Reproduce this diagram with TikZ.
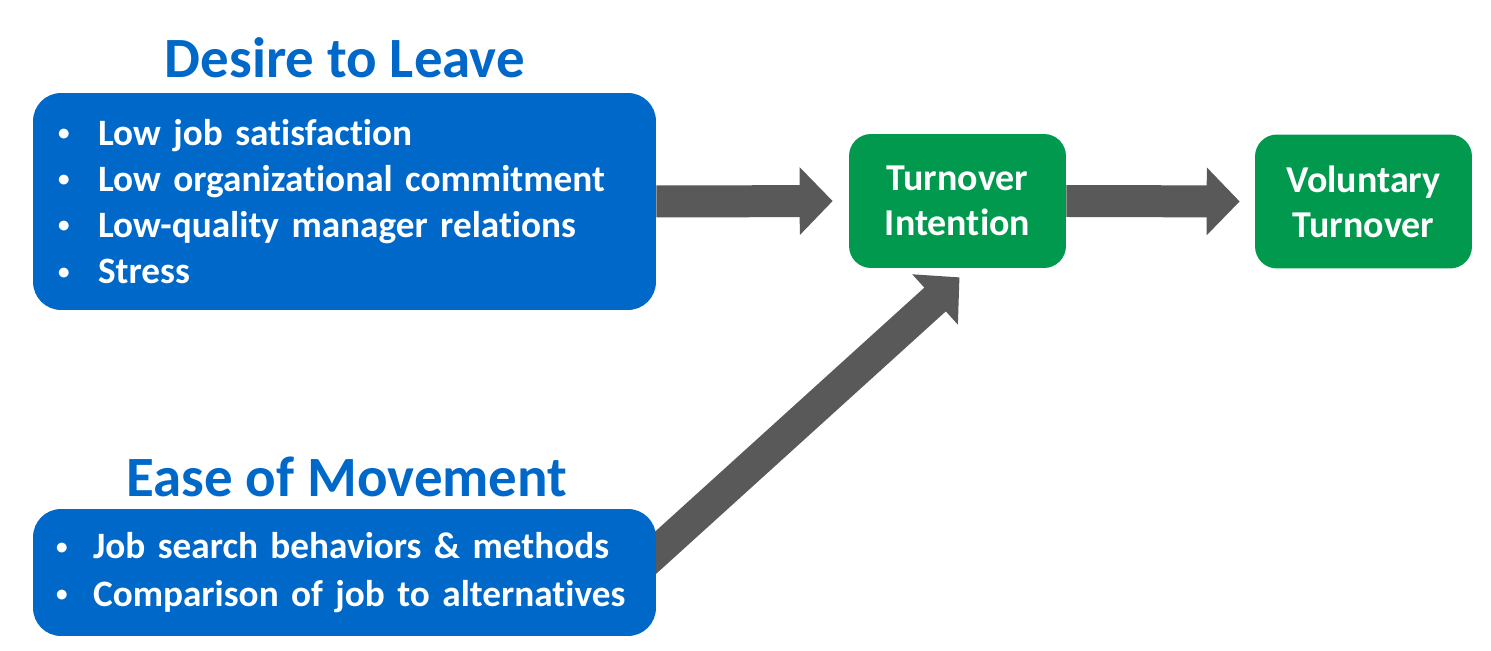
\documentclass[tikz,border=0pt]{standalone}
\usepackage{fontspec}
\usepackage{graphicx}
\setmainfont{Carlito}[Ligatures=NoCommon]
\usetikzlibrary{arrows.meta}
\usetikzlibrary{backgrounds}
\definecolor{boxblue}{HTML}{0068C8}
\definecolor{boxgreen}{HTML}{00994D}
\definecolor{arrowgray}{HTML}{595959}
\newcommand{\bul}[2]{\mbox{\makebox[#1][l]{\raisebox{0.12em}{\scalebox{0.62}{\textbullet}}}#2}}

\begin{document}
\begin{tikzpicture}[x=0.02cm, y=-0.02cm,
    heading/.style={text=boxblue, font=\fontsize{32.4pt}{36pt}\selectfont\bfseries, anchor=base},
    listbox/.style={fill=boxblue, text=white, rounded corners=0.56cm, align=left,
        font=\fontsize{21.2pt}{26.2pt}\selectfont\bfseries, inner ysep=0pt},
    stagebox/.style={fill=boxgreen, text=white, rounded corners=0.44cm, align=center,
        minimum width=4.34cm, minimum height=2.68cm, inner sep=0pt,
        font=\fontsize{21.6pt}{25.8pt}\selectfont\bfseries},
    fatarrow/.style={draw=arrowgray, line width=0.64cm, -{Triangle[length=0.66cm, width=1.32cm]}}]
        \useasboundingbox (0,0) rectangle (1491,651);

        % two groups of factors
        \node [heading] (desiretitle) at (345,78) {Desire to Leave};
        \node [listbox, text width=11.46cm, inner xsep=0.5cm, minimum height=4.34cm] (desire) at (344.5,201.5)
            {\bul{0.8cm}{Low job satisfaction}\\
             \bul{0.8cm}{Low organizational commitment}\\
             \bul{0.8cm}{Low-quality manager relations}\\
             \bul{0.8cm}{Stress}};

        \node [heading] (easetitle) at (347,497) {Ease of Movement};
        \node [listbox, text width=11.54cm, inner xsep=0.46cm, minimum height=2.54cm] (ease) at (344.5,572.5)
            {\bul{0.74cm}{Job search behaviors \& methods}\\[1pt]
             \bul{0.74cm}{Comparison of job to alternatives}};

        % outcomes
        \node [stagebox] (intention) at (957.5,201) {Turnover\\Intention};
        \node [stagebox] (voluntary) at (1363.5,201.5) {Voluntary\\Turnover};

        \coordinate (easeout) at (620,585);

        \begin{scope}[on background layer]
            \draw [fatarrow, shorten >=0.32cm] (desire.east) -- (intention.west);
            \draw [fatarrow, shorten >=0.3cm] (intention.east) -- (voluntary.west);
            \draw [fatarrow] (easeout) -- ([shift={(2,9)}]intention.south);
        \end{scope}
    \end{tikzpicture}
\end{document}
